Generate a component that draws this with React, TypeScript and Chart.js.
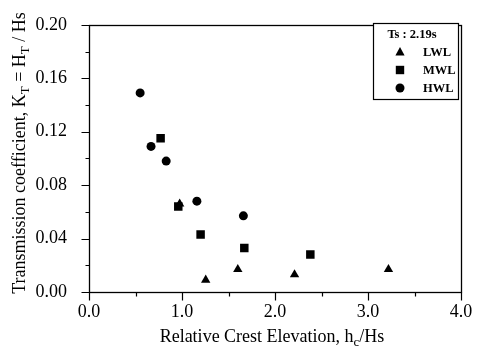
import React, { useEffect, useRef } from "react";
import { Chart, registerables } from "chart.js";

Chart.register(...registerables);

const SERIES_LABELS = ["LWL", "MWL", "HWL"];
const LWL_X = [0.975, 1.255, 1.6, 2.21, 3.22];
const LWL_Y = [0.066, 0.009, 0.017, 0.013, 0.017];
const MWL_X = [0.77, 0.96, 1.2, 1.67, 2.38];
const MWL_Y = [0.115, 0.064, 0.043, 0.033, 0.028];
const HWL_X = [0.55, 0.667, 0.83, 1.16, 1.66];
const HWL_Y = [0.149, 0.109, 0.098, 0.068, 0.057];
const LEGEND_TITLE = "Ts : 2.19s";
const X_MIN = 0, X_MAX = 4, X_STEP = 1, X_MINOR = 0.5;
const Y_MIN = 0, Y_MAX = 0.2, Y_STEP = 0.04, Y_MINOR = 0.02;

const FONT = "'Liberation Serif', 'DejaVu Serif', serif";

function pts(xs: number[], ys: number[]) {
  return xs.map((x, i) => ({ x, y: ys[i] }));
}

function drawMarker(ctx: CanvasRenderingContext2D, style: string, x: number, y: number) {
  ctx.beginPath();
  if (style === "triangle") {
    ctx.moveTo(x, y - 5);
    ctx.lineTo(x + 4.6, y + 3.5);
    ctx.lineTo(x - 4.6, y + 3.5);
    ctx.closePath();
  } else if (style === "rect") {
    ctx.rect(x - 4.2, y - 4.2, 8.4, 8.4);
  } else {
    ctx.arc(x, y, 4.5, 0, Math.PI * 2);
  }
  ctx.fill();
}

function drawSegments(ctx: CanvasRenderingContext2D, segs: [string, boolean][], cx: number, baseY: number, size: number) {
  const main = `${size}px ${FONT}`;
  const sub = `${Math.round(size * 0.72)}px ${FONT}`;
  let total = 0;
  for (const [t, s] of segs) {
    ctx.font = s ? sub : main;
    total += ctx.measureText(t).width;
  }
  let x = cx - total / 2;
  ctx.textBaseline = "alphabetic";
  ctx.textAlign = "left";
  for (const [t, s] of segs) {
    ctx.font = s ? sub : main;
    ctx.fillText(t, x, s ? baseY + size * 0.22 : baseY);
    x += ctx.measureText(t).width;
  }
}

const framePlugin = {
  id: "frame",
  afterDraw(chart: any) {
    const { ctx, chartArea: a, scales } = chart;
    const xs = scales.x, ys = scales.y;
    const L = Math.round(a.left) + 0.5, R = Math.round(a.right) + 0.5;
    const T = Math.round(a.top) + 0.5, B = Math.round(a.bottom) + 0.5;
    ctx.save();
    ctx.strokeStyle = "#000";
    ctx.lineWidth = 1.3;
    ctx.strokeRect(L, T, R - L, B - T);
    ctx.lineWidth = 1.2;
    ctx.beginPath();
    for (let v = Y_MIN; v <= Y_MAX + 1e-9; v += Y_MINOR) {
      const major = Math.abs(v / Y_STEP - Math.round(v / Y_STEP)) < 1e-6;
      const len = major ? 8 : 4;
      const py = Math.round(ys.getPixelForValue(v)) + 0.5;
      ctx.moveTo(L - len, py);
      ctx.lineTo(L, py);
    }
    for (let v = X_MIN; v <= X_MAX + 1e-9; v += X_MINOR) {
      const major = Math.abs(v / X_STEP - Math.round(v / X_STEP)) < 1e-6;
      const len = major ? 8 : 4;
      const px = Math.round(xs.getPixelForValue(v)) + 0.5;
      ctx.moveTo(px, B);
      ctx.lineTo(px, B + len);
    }
    ctx.stroke();

    // axis titles
    ctx.fillStyle = "#000";
    drawSegments(ctx, [["Relative Crest Elevation, h", false], ["c", true], ["/Hs", false]], 272, 342, 18);
    ctx.save();
    ctx.translate(25, 153);
    ctx.rotate(-Math.PI / 2);
    drawSegments(ctx, [["Transmission coefficient, K", false], ["T", true], [" = H", false], ["T", true], [" / Hs", false]], 0, 0, 18);
    ctx.restore();

    // legend
    const bx = 373, by = 23, bw = 85, bh = 76;
    ctx.fillStyle = "#fff";
    ctx.fillRect(bx, by, bw, bh);
    ctx.lineWidth = 1.2;
    ctx.strokeRect(bx + 0.5, by + 0.5, bw, bh);
    ctx.fillStyle = "#000";
    ctx.font = `bold 12.5px ${FONT}`;
    ctx.textAlign = "center";
    ctx.textBaseline = "middle";
    ctx.fillText(LEGEND_TITLE, 412, 35);
    ctx.textAlign = "left";
    chart.data.datasets.forEach((ds: any, i: number) => {
      const ry = 52 + i * 18;
      drawMarker(ctx, ds.pointStyle, 400, ry);
      ctx.fillText(ds.label, 423, ry + 1);
    });
    ctx.restore();
  },
};

export default function App() {
  const ref = useRef<HTMLCanvasElement>(null);
  useEffect(() => {
    if (!ref.current) return;
    const common = { showLine: false, backgroundColor: "#000", borderColor: "#000", borderWidth: 0, pointBorderWidth: 0 };
    const chart = new Chart(ref.current, {
      type: "scatter",
      data: {
        datasets: [
          { ...common, label: SERIES_LABELS[0], data: pts(LWL_X, LWL_Y), pointStyle: "triangle", pointRadius: 5.4 },
          { ...common, label: SERIES_LABELS[1], data: pts(MWL_X, MWL_Y), pointStyle: "rect", pointRadius: 6 },
          { ...common, label: SERIES_LABELS[2], data: pts(HWL_X, HWL_Y), pointStyle: "circle", pointRadius: 4.5 },
        ],
      },
      options: {
        responsive: false,
        animation: false,
        devicePixelRatio: 1,
        layout: { padding: { top: 21, right: 16, left: 0, bottom: 0 } },
        plugins: { legend: { display: false }, tooltip: { enabled: false } },
        scales: {
          x: {
            type: "linear",
            min: X_MIN,
            max: X_MAX,
            grid: { display: false },
            border: { display: false },
            ticks: {
              stepSize: X_STEP,
              color: "#000",
              padding: 1,
              font: { family: FONT, size: 18 },
              callback: (v: any) => Number(v).toFixed(1),
            },
            afterFit: (s: any) => { s.height = 57; },
          },
          y: {
            min: Y_MIN,
            max: Y_MAX,
            grid: { display: false },
            border: { display: false },
            ticks: {
              stepSize: Y_STEP,
              color: "#000",
              padding: 14,
              font: { family: FONT, size: 18 },
              callback: (v: any) => Number(v).toFixed(2),
            },
            afterFit: (s: any) => { s.width = 89; },
          },
        },
      },
      plugins: [framePlugin],
    } as any);
    return () => chart.destroy();
  }, []);
  return (
    <div style={{ position: "absolute", left: 0, top: 0, width: 477, height: 349, background: "#fff" }}>
      <canvas ref={ref} width={477} height={349} />
    </div>
  );
}
